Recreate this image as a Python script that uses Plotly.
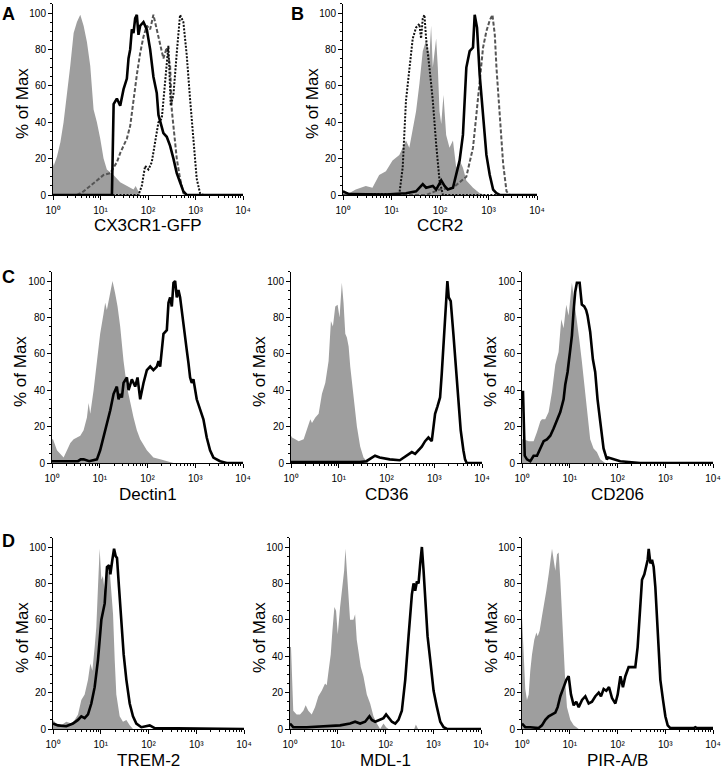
import plotly.graph_objects as go

# ---------------- data (x = fluorescence intensity, y = % of Max) ----------------
# Panel A: CX3CR1-GFP
A_iso_x = [1, 1.03, 1.21, 1.43, 1.67, 1.97, 2.31, 2.72, 3.19, 3.75, 4.41, 5.18, 6.08, 7.15, 8.4, 9.86, 11.6, 13.6, 18.8, 26, 35.9, 49.5, 55, 68.4]
A_iso_y = [18, 16, 21, 29, 40, 55, 71, 89, 95, 99, 93, 84, 71, 47, 40, 31, 20, 14, 11, 7, 5, 3, 5, 0]
A_solid_x = [1, 17.4, 18.9, 22.1, 26, 30.5, 35.9, 38.9, 42.2, 45.7, 49.5, 53.7, 58.2, 63, 68.4, 80.3, 94.4, 111, 130, 153, 166, 180, 211, 248, 292, 343, 403, 473, 556, 653, 10000]
A_solid_y = [0, 0, 50, 53, 49, 58, 64, 75, 80, 91, 89, 97, 99, 88, 93, 95, 91, 80, 65, 56, 44, 40, 34, 32, 27, 20, 12, 7, 2, 0, 0]
A_dash_x = [1, 3.2, 4.4, 6.1, 8.4, 11.6, 16, 22.1, 26, 30.5, 35.9, 42.2, 49.5, 58.2, 68.4, 80.3, 94.4, 111, 130, 153, 180, 211, 248, 292, 316, 343, 403, 473, 556, 653, 10000]
A_dash_y = [0, 0, 2, 5, 8, 11, 12, 18, 23, 27, 31, 38, 53, 66, 78, 87, 93, 91, 99, 91, 84, 75, 81, 71, 47, 38, 20, 9, 1, 0, 0]
A_dot_x = [1, 63, 74, 87, 102, 120, 141, 166, 195, 229, 269, 301, 343, 403, 473, 556, 653, 767, 902, 1060, 1245, 1462, 10000]
A_dot_y = [0, 0, 5, 16, 14, 18, 29, 40, 42, 62, 82, 49, 55, 78, 99, 95, 77, 53, 29, 9, 1, 0, 0]

# Panel B: CCR2
B_iso_x = [1, 1.33, 1.83, 2.95, 4.05, 5.57, 7.66, 10.5, 14.5, 19.9, 23.3, 27.4, 32.1, 37.6, 44.1, 51.7, 60.6, 65.6, 71, 83.3, 90.2, 97.7, 106, 118, 134, 157, 185, 216, 254, 297, 349, 479, 658, 905]
B_iso_y = [2, 1, 3, 5, 4, 11, 13, 19, 22, 30, 26, 37, 46, 61, 79, 85, 77, 93, 70, 86, 70, 46, 39, 55, 33, 26, 30, 15, 19, 15, 8, 4, 1, 0]
B_dot_x = [1, 1.33, 14.5, 17, 19.9, 23.3, 27.4, 32.1, 37.6, 40.7, 44.1, 47.7, 51.7, 60.6, 71, 83.3, 97.7, 115, 10000]
B_dot_y = [2, 0.5, 0.5, 15, 52, 70, 86, 92, 94, 86, 97, 99, 86, 70, 52, 28, 8, 0, 0]
B_solid_x = [1, 1.33, 7.66, 19.9, 32.1, 44.1, 51.7, 71, 83.3, 106, 124, 145, 185, 254, 297, 349, 409, 479, 519, 580, 658, 772, 905, 1061, 1245, 1459, 1711, 10000]
B_solid_y = [2, 0.5, 0.3, 1, 2, 6, 4, 5, 3, 8, 5, 3, 4, 19, 33, 70, 79, 81, 99, 92, 66, 46, 22, 11, 3, 1, 0, 0]
B_dash_x = [1, 51.7, 97.7, 185, 349, 479, 562, 658, 772, 905, 1061, 1205, 1349, 1459, 1711, 2006, 2352, 2757, 10000]
B_dash_y = [0, 0, 3, 4, 10, 26, 44, 64, 81, 90, 96, 99, 88, 70, 41, 17, 2, 0, 0]

# Panel C: Dectin1
C1_iso_x = [1, 1.05, 1.27, 1.75, 2.06, 2.42, 2.84, 3.91, 4.59, 5.39, 5.84, 6.33, 7.43, 8.73, 10.2, 12, 13, 14.1, 16.6, 18.5, 21.1, 23.6, 26.8, 31.5, 37, 43.4, 51, 59.8, 70.3, 96.8, 133, 184, 254, 350]
C1_iso_y = [13, 13, 7, 3, 7, 11, 13, 15, 18, 25, 33, 27, 40, 56, 71, 82, 88, 84, 95, 100, 93, 86, 75, 56, 42, 33, 25, 18, 13, 7, 3, 2, 1, 0]
C1_x = [1, 2, 3.5, 4, 4.6, 6, 8.73, 10.2, 12, 14.1, 16.6, 19.5, 22.8, 24.8, 26.8, 29.1, 31.5, 37, 40.1, 47, 55.2, 61.8, 70.3, 82.4, 96.8, 114, 133, 157, 170, 184, 216, 254, 275, 298, 323, 350, 379, 410, 445, 482, 566, 664, 720, 780, 845, 915, 1074, 1262, 1482, 1740, 2043, 2399, 3305, 4556, 10000]
C1_y = [1, 1, 1, 2, 2, 1, 2, 7, 14, 22, 29, 38, 42, 35, 38, 36, 44, 47, 40, 46, 42, 47, 35, 44, 51, 53, 51, 53, 56, 53, 71, 73, 88, 91, 86, 99, 100, 91, 95, 91, 75, 62, 55, 47, 44, 46, 35, 29, 24, 14, 7, 3, 1, 0, 0]

# Panel C: CD36
C2_iso_x = [1, 1.05, 1.23, 1.45, 1.84, 2.16, 2.54, 2.75, 3.23, 3.79, 4.45, 5.22, 6.13, 6.86, 7.55, 8.45, 9.46, 10.4, 11.6, 12.6, 13.7, 14.8, 16.1, 17.4, 20.4, 24, 28.1, 33, 41.4]
C2_iso_y = [15, 14, 13, 12, 13, 18, 24, 22, 25, 27, 38, 44, 56, 78, 75, 86, 87, 80, 99, 88, 71, 69, 64, 53, 35, 20, 9, 3, 0]
C2_x = [1, 27.5, 38, 57.5, 72, 117, 190, 263, 339, 398, 501, 548, 643, 755, 887, 1041, 1164, 1324, 1435, 1607, 1768, 1884, 2010, 2213, 2516, 2860, 3200, 3582, 4074, 4415, 4780, 10000]
C2_y = [0.5, 0.5, 1, 4, 3, 2, 1.5, 4, 6, 5, 8, 9, 12, 14, 12, 27, 31, 36, 49, 71, 88, 100, 91, 89, 71, 53, 35, 18, 7, 2, 0, 0]

# Panel C: CD206
C3_iso_x = [1, 1.08, 1.38, 1.75, 2.06, 2.42, 2.62, 3.07, 3.61, 4.24, 4.98, 5.84, 6.64, 7.43, 8.45, 9.46, 11.1, 12.4, 14.1, 15.8, 17.9, 20.1, 22.8, 26.8, 31.5, 37, 43.4, 55.2]
C3_iso_y = [13, 13, 12, 12, 17, 23, 24, 24, 28, 39, 54, 61, 79, 74, 87, 81, 99, 90, 78, 68, 56, 43, 28, 13, 8, 6, 2, 0]
C3_x = [1, 1.05, 1.14, 1.27, 1.49, 1.75, 2.06, 2.42, 2.84, 3.33, 3.91, 4.59, 5.39, 6.33, 7.43, 8.05, 9.01, 9.93, 11.1, 12, 13, 14.1, 16.1, 17.9, 20.1, 22.1, 23.6, 26.8, 30.5, 34.1, 38.2, 43.4, 51, 59.8, 63.8, 114, 298, 10000]
C3_y = [39, 39, 4, 2, 1, 4, 4, 8, 12, 13, 15, 19, 23, 28, 35, 43, 50, 61, 70, 83, 94, 99, 99, 87, 86, 84, 81, 72, 57, 50, 35, 23, 8, 2, 3, 1, 0, 0]

# Panel D: TREM-2
D1_iso_x = [1, 1.17, 1.49, 1.9, 2.42, 2.84, 3.34, 3.92, 4.6, 5.41, 6.05, 6.67, 7.46, 8.08, 8.75, 9.49, 10.3, 11.1, 12.1, 13.1, 15.4, 16.7, 18.1, 19.6, 21.2, 24.9, 29.2, 34.4, 40.4, 47.3]
D1_iso_y = [5, 3, 2, 4, 3, 5, 8, 16, 19, 27, 36, 32, 45, 56, 78, 99, 82, 84, 76, 85, 87, 74, 63, 38, 19, 7, 4, 5, 2, 0]
D1_x = [1, 1.27, 1.9, 2.62, 3.34, 3.92, 4.6, 5.41, 6.35, 7.46, 8.75, 10.3, 12.1, 13.5, 14.9, 15.9, 17.5, 19, 20.5, 21.9, 24.1, 27, 30.2, 34.4, 40.4, 47.3, 55.6, 70.8, 106, 135, 10000]
D1_y = [3, 2, 1.5, 3, 5, 7, 6, 8, 14, 23, 38, 60, 69, 89, 90, 85, 93, 99, 95, 94, 78, 60, 41, 27, 14, 7, 3, 1, 2, 0.5, 0]

# Panel D: MDL-1
D2_iso_x = [1, 1.05, 1.17, 1.38, 1.62, 1.9, 2.13, 2.42, 2.85, 3.34, 3.93, 4.62, 5.42, 5.88, 6.58, 7.13, 7.73, 8.51, 9.22, 10, 11.2, 12.3, 13.6, 14.5, 15.5, 16.7, 18.1, 21.3, 23.1, 25, 27.1, 30.4, 34.5, 40.6, 47.7, 56, 65.8, 77.3, 90.8, 103, 116, 400, 433, 480]
D2_iso_y = [45, 45, 10, 8, 8, 10, 13, 10, 8, 12, 18, 21, 25, 24, 34, 41, 54, 67, 65, 52, 67, 78, 87, 99, 87, 71, 60, 60, 63, 49, 43, 34, 29, 19, 14, 7, 3, 0, 3, 1, 0, 0, 2.5, 0]
D2_x = [1, 1.17, 2.24, 11.2, 18.1, 23.1, 29.4, 37.4, 46.1, 51.7, 60.7, 77.3, 90.8, 103, 116, 136, 160, 187, 220, 259, 304, 357, 387, 419, 454, 492, 534, 578, 627, 679, 760, 865, 1016, 1194, 1403, 1648, 1936, 10000]
D2_y = [3, 1, 1, 2, 3, 4, 3, 4, 7, 5, 4, 5, 6, 8, 6, 4, 3, 5, 10, 27, 51, 74, 80, 76, 81, 80, 91, 100, 87, 69, 51, 38, 21, 12, 4, 1, 0, 0]

# Panel D: PIR-A/B
D3_iso_x = [1, 1.08, 1.17, 1.27, 1.38, 1.49, 1.62, 1.81, 2.0, 2.13, 2.34, 2.62, 2.94, 3.23, 3.62, 3.92, 4.25, 4.6, 4.99, 5.41, 5.86, 6.35, 6.88, 7.46, 8.08, 8.75, 10.3, 12.1, 15.4]
D3_iso_y = [62, 40, 22, 16, 19, 32, 41, 49, 53, 51, 54, 62, 69, 76, 85, 93, 99, 93, 87, 96, 97, 82, 63, 41, 25, 12, 5, 2, 0]
D3_x = [1, 1.17, 1.49, 2.23, 2.62, 3.08, 3.62, 4.25, 4.99, 5.58, 6.35, 7.46, 8.48, 9.49, 10.6, 12.1, 13.7, 15.4, 18.1, 21.2, 24.9, 29.2, 34.4, 40.4, 45.1, 51.3, 58.3, 66.4, 76.7, 90.2, 101, 115, 130, 146, 171, 201, 236, 264, 291, 326, 365, 402, 429, 450, 488, 528, 572, 620, 671, 728, 789, 897, 1005, 1125, 1279, 3938, 4266, 4624, 10000]
D3_y = [3, 1, 1, 0.5, 2, 5, 7, 8, 9, 12, 18, 23, 27, 29, 19, 13, 15, 12, 16, 18, 14, 15, 18, 20, 18, 22, 21, 23, 17, 14, 19, 29, 23, 29, 34, 34, 34, 45, 63, 82, 85, 89, 93, 99, 91, 93, 89, 78, 60, 41, 27, 16, 7, 2, 0.5, 0.5, 1, 0.5, 0.5]

# tick labels
X_TICKS = [1, 10, 100, 1000, 10000]
X_TICKTEXT = ["10\u2070", "10\u00b9", "10\u00b2", "10\u00b3", "10\u2074"]
X_MINOR = [m * d for d in (1, 10, 100, 1000) for m in range(2, 10)]
Y_TICKS = [0, 20, 40, 60, 80, 100]
X_TITLES = ["CX3CR1-GFP", "CCR2", "Dectin1", "CD36", "CD206", "TREM-2", "MDL-1", "PIR-A/B"]
LETTERS = ["A", "B", "C", "D"]

# ---------------- styling / layout ----------------
W, H = 723, 772
FONT = "Liberation Sans, Arial, Helvetica, sans-serif"
GRAY = "#9e9e9e"

def fx(p):
    return p / W

def fy(p):
    return 1 - p / H

# (x0 px, x1 px, y-zero px) for each panel
panels = [
    (53, 243, 195), (343, 537, 195),
    (52, 243, 463), (291, 482, 463), (522, 713, 463),
    (53, 244, 729), (290, 481, 729), (522, 713, 729),
]
PX100 = 182  # pixels for 100 %
YMAX = 105

series = [
    [("fill", A_iso_x, A_iso_y), ("dash", A_dash_x, A_dash_y), ("dot", A_dot_x, A_dot_y), ("solid", A_solid_x, A_solid_y)],
    [("fill", B_iso_x, B_iso_y), ("dash", B_dash_x, B_dash_y), ("dot", B_dot_x, B_dot_y), ("solid", B_solid_x, B_solid_y)],
    [("fill", C1_iso_x, C1_iso_y), ("solid", C1_x, C1_y)],
    [("fill", C2_iso_x, C2_iso_y), ("solid", C2_x, C2_y)],
    [("fill", C3_iso_x, C3_iso_y), ("solid", C3_x, C3_y)],
    [("fill", D1_iso_x, D1_iso_y), ("solid", D1_x, D1_y)],
    [("fill", D2_iso_x, D2_iso_y), ("solid", D2_x, D2_y)],
    [("fill", D3_iso_x, D3_iso_y), ("solid", D3_x, D3_y)],
]

fig = go.Figure()
layout = {}
annotations = []

for i, ((x0, x1, y0), sers) in enumerate(zip(panels, series)):
    k = "" if i == 0 else str(i + 1)
    xa, ya = "x" + k, "y" + k
    for kind, xs, ys in sers:
        if kind == "fill":
            tr = go.Scatter(x=xs, y=ys, mode="lines", fill="tozeroy",
                            line=dict(width=0, color=GRAY), fillcolor=GRAY)
        elif kind == "dash":
            tr = go.Scatter(x=xs, y=ys, mode="lines",
                            line=dict(width=2, color="#555555", dash="4px,2px"))
        elif kind == "dot":
            tr = go.Scatter(x=xs, y=ys, mode="lines",
                            line=dict(width=2, color="#111111", dash="2px,1.5px"))
        else:
            tr = go.Scatter(x=xs, y=ys, mode="lines",
                            line=dict(width=2.6, color="black"))
        tr.update(xaxis=xa, yaxis=ya, hoverinfo="skip", showlegend=False)
        fig.add_trace(tr)

    ytop = y0 - PX100 * YMAX / 100
    layout["xaxis" + k] = dict(
        type="log", range=[0, 4], domain=[fx(x0), fx(x1)], anchor=ya,
        automargin=False,
        showline=True, linecolor="black", linewidth=1, showgrid=False, zeroline=False,
        tickmode="array", tickvals=X_TICKS, ticktext=X_TICKTEXT,
        ticks="outside", ticklen=4, tickwidth=1, tickcolor="black",
        ticklabelstandoff=2,
        minor=dict(tickmode="array", tickvals=X_MINOR, ticks="outside", ticklen=2,
                   tickwidth=1, tickcolor="black", showgrid=False),
        tickfont=dict(family=FONT, size=10, color="black"),
        fixedrange=True,
    )
    layout["yaxis" + k] = dict(
        range=[0, YMAX], domain=[fy(y0), fy(ytop)], anchor=xa,
        automargin=False,
        showline=True, linecolor="black", linewidth=1, showgrid=False, zeroline=False,
        tickmode="array", tickvals=Y_TICKS,
        ticks="outside", ticklen=4, tickwidth=1, tickcolor="black",
        minor=dict(dtick=5, ticks="outside", ticklen=2, tickwidth=1,
                   tickcolor="black", showgrid=False),
        tickfont=dict(family=FONT, size=10, color="black"),
        fixedrange=True,
    )
    # y title
    annotations.append(dict(
        text="% of Max", textangle=-90, x=fx(x0 - 31), y=fy(y0 - PX100 / 2),
        xref="paper", yref="paper", showarrow=False, xanchor="center", yanchor="middle",
        font=dict(family=FONT, size=17, color="black")))
    # x title
    annotations.append(dict(
        text=X_TITLES[i], x=fx((x0 + x1) / 2), y=fy(y0 + 31),
        xref="paper", yref="paper", showarrow=False, xanchor="center", yanchor="middle",
        font=dict(family=FONT, size=17, color="black")))

letter_pos = [(8, 14), (297, 14), (8, 277), (8, 541)]
for L, (lx, ly) in zip(LETTERS, letter_pos):
    annotations.append(dict(
        text="<b>%s</b>" % L, x=fx(lx), y=fy(ly), xref="paper", yref="paper",
        showarrow=False, xanchor="center", yanchor="middle",
        font=dict(family=FONT, size=18, color="black")))

fig.update_layout(
    width=W, height=H, margin=dict(l=0, r=0, t=0, b=0),
    paper_bgcolor="white", plot_bgcolor="white",
    showlegend=False, annotations=annotations, **layout,
)

# remove the browser's default 8px page margin so the figure fills the window exactly
fig.write_html("out.html", config={"displayModeBar": False, "staticPlot": True},
               post_script="document.body.style.margin='0';document.body.style.overflow='hidden';")
